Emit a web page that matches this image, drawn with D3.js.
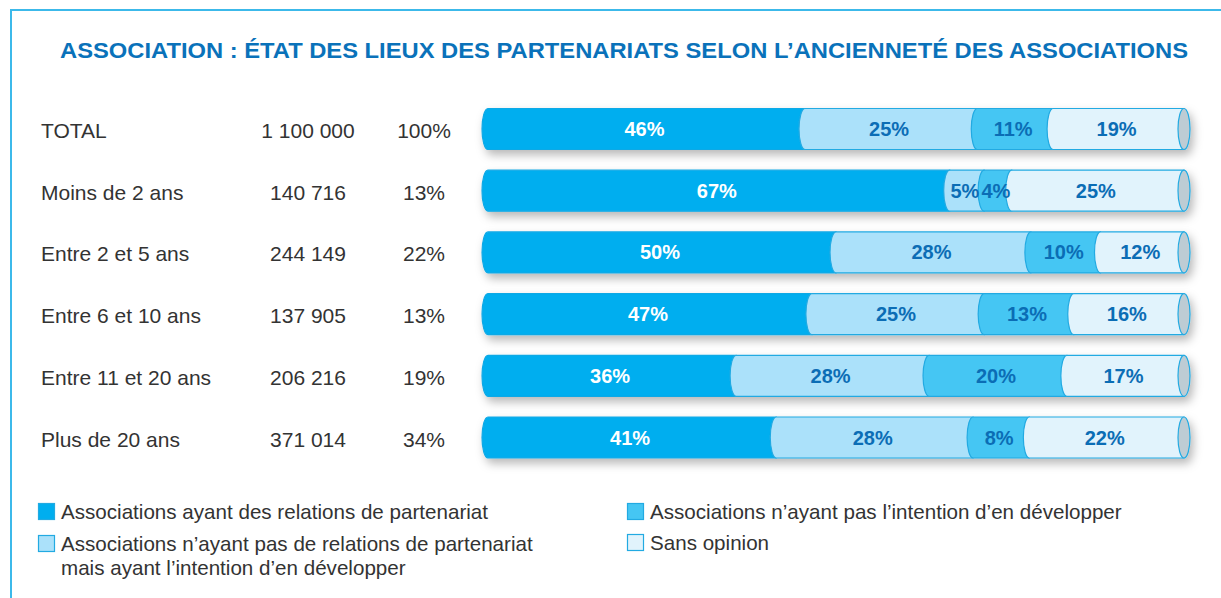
<!DOCTYPE html>
<html><head><meta charset="utf-8">
<script src="https://cdn.jsdelivr.net/npm/d3@7"></script>
<style>
html,body{margin:0;padding:0;background:#fff;}
svg{display:block;font-family:"Liberation Sans",Arial,Helvetica,sans-serif;}
</style></head>
<body>
<svg id="chart" width="1221" height="598"></svg>
<script>
const title = "ASSOCIATION : ÉTAT DES LIEUX DES PARTENARIATS SELON L’ANCIENNETÉ DES ASSOCIATIONS";
const categories = ["TOTAL","Moins de 2 ans","Entre 2 et 5 ans","Entre 6 et 10 ans","Entre 11 et 20 ans","Plus de 20 ans"];
const counts = ["1 100 000","140 716","244 149","137 905","206 216","371 014"];
const shares = ["100%","13%","22%","13%","19%","34%"];
const partenariat = [46,67,50,47,36,41];
const intention = [25,5,28,25,28,28];
const pasIntention = [11,4,10,13,20,8];
const sansOpinion = [19,25,12,16,17,22];
const seriesNames = ["Associations ayant des relations de partenariat",
  "Associations n’ayant pas de relations de partenariat|mais ayant l’intention d’en développer",
  "Associations n’ayant pas l’intention d’en développer",
  "Sans opinion"];

const colors = ["#00aeef","#abe1fa","#45c6f3","#e1f3fc"];
const labelColors = ["#ffffff","#0b6db5","#0b6db5","#0b6db5"];
const strokeCol = "#22aae2";

const svg = d3.select("#chart");
const defs = svg.append("defs");
const f = defs.append("filter").attr("id","sh").attr("x","-5%").attr("y","-50%").attr("width","112%").attr("height","220%");
f.append("feDropShadow").attr("dx",3).attr("dy",5).attr("stdDeviation",5).attr("flood-color","#000").attr("flood-opacity",0.28);

// frame
svg.append("path").attr("d","M11,598 V10 H1221").attr("fill","none").attr("stroke","#3cb9ea").attr("stroke-width",2);

svg.append("text").attr("x",60).attr("y",58)
  .attr("font-size",22).attr("font-weight","bold").attr("fill","#0a72ba")
  .attr("textLength",1128).attr("lengthAdjust","spacingAndGlyphs").text(title);

const y = d3.scalePoint().domain(categories).range([129,437.5]);
const x = d3.scaleLinear().domain([0,1]).range([488,1184]);
const barH = 41, rx = 6;

const rows = categories.map((c,i)=>{
  const vals=[partenariat[i],intention[i],pasIntention[i],sansOpinion[i]];
  const tot=d3.sum(vals);
  let acc=0;
  const segs=vals.map((v,k)=>{const s={k,v,x0:acc/tot,x1:(acc+v)/tot};acc+=v;return s;});
  return {c,i,segs};
});

rows.forEach(r=>{
  const cy=y(r.c);
  svg.append("text").attr("x",41).attr("y",cy+9).attr("font-size",21).attr("fill","#333").text(r.c);
  svg.append("text").attr("x",308).attr("y",cy+9).attr("text-anchor","middle").attr("font-size",21).attr("fill","#333").text(counts[r.i]);
  svg.append("text").attr("x",424).attr("y",cy+9).attr("text-anchor","middle").attr("font-size",21).attr("fill","#333").text(shares[r.i]);

  const g=svg.append("g").attr("filter","url(#sh)");
  const t=cy-barH/2, b=cy+barH/2, ry=barH/2;
  r.segs.forEach(s=>{
    const x0=x(s.x0), x1=x(s.x1);
    g.append("path")
      .attr("d",`M${x0},${t} A${rx},${ry} 0 0 0 ${x0},${b} L${x1},${b} L${x1},${t} Z`)
      .attr("fill",colors[s.k]).attr("stroke",s.k===0?"#0fa9e6":strokeCol).attr("stroke-width",1.2);
  });
  g.append("ellipse").attr("cx",x(1)).attr("cy",cy).attr("rx",rx).attr("ry",ry)
    .attr("fill","#bdccd4").attr("stroke",strokeCol).attr("stroke-width",1.2);
  r.segs.forEach(s=>{
    svg.append("text").attr("x",(x(s.x0)+x(s.x1))/2-2).attr("y",cy+7)
      .attr("text-anchor","middle").attr("font-size",20).attr("font-weight","bold")
      .attr("fill",labelColors[s.k]).text(s.v+"%");
  });
});

// legend
const legPos=[[38,503],[38,535],[627,503],[627,534]];
seriesNames.forEach((n,k)=>{
  const [lx,ly]=legPos[k];
  svg.append("rect").attr("x",lx+0.5).attr("y",ly+0.5).attr("width",16).attr("height",16)
    .attr("fill",colors[k]).attr("stroke",strokeCol).attr("stroke-width",1.2);
  const lines=n.split("|");
  lines.forEach((l,j)=>{
    svg.append("text").attr("x",lx+23).attr("y",ly+16+j*24).attr("font-size",20.6).attr("fill","#333").text(l);
  });
});
</script>
</body></html>
